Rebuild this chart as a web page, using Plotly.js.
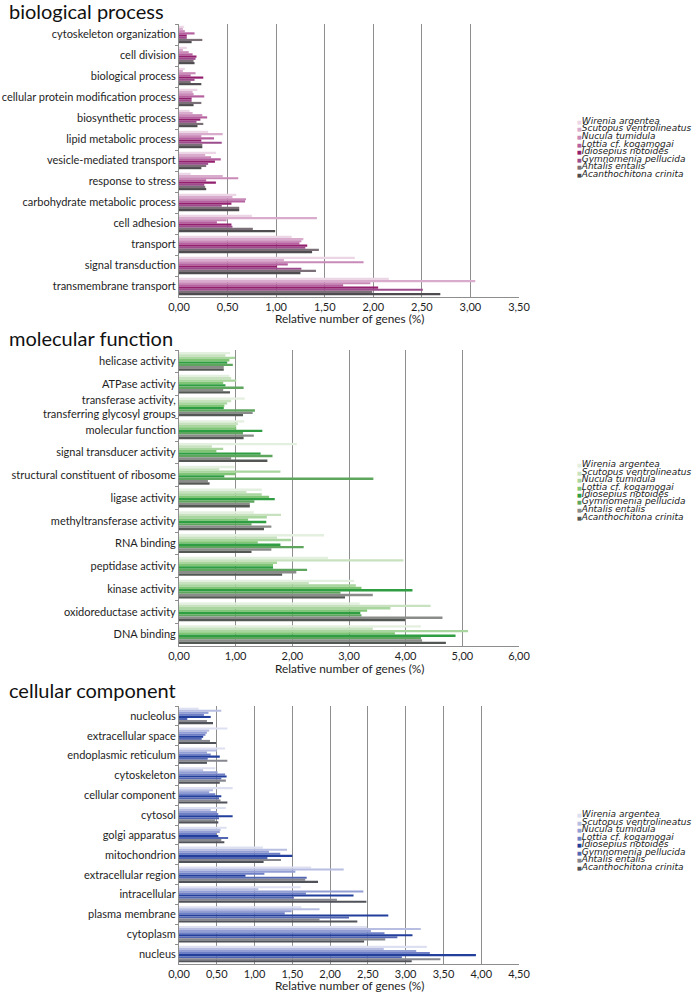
<!DOCTYPE html>
<html><head><meta charset="utf-8">
<script src="https://cdn.plot.ly/plotly-3.0.1.min.js"></script>
<style>html,body{margin:0;padding:0;background:#fff;}</style>
</head><body><div id="chart" style="width:694px;height:992px;"></div>
<script>
// ---------- DATA ----------
const species = ['Wirenia argentea','Scutopus ventrolineatus','Nucula tumidula','Lottia cf. kogamogai','Idiosepius notoides','Gymnomenia pellucida','Antalis entalis','Acanthochitona crinita'];

const bpCategories = ['cytoskeleton organization','cell division','biological process','cellular protein modification process','biosynthetic process','lipid metabolic process','vesicle-mediated transport','response to stress','carbohydrate metabolic process','cell adhesion','transport','signal transduction','transmembrane transport'];
const bpWirenia    = [0.05,0.08,0.06,0.19,0.11,0.30,0.38,0.12,0.59,0.75,1.16,1.81,2.16];
const bpScutopus   = [0.04,0.04,0.04,0.14,0.14,0.45,0.27,0.45,0.55,1.42,1.28,1.08,3.05];
const bpNucula     = [0.06,0.10,0.17,0.15,0.24,0.23,0.33,0.61,0.69,0.49,1.26,1.90,1.97];
const bpLottia     = [0.16,0.14,0.12,0.26,0.29,0.36,0.43,0.28,0.68,0.39,1.24,1.12,1.69];
const bpIdiosepius = [0.08,0.18,0.25,0.13,0.22,0.23,0.37,0.38,0.54,0.54,1.32,1.01,2.05];
const bpGymnomenia = [0.08,0.17,0.16,0.13,0.18,0.44,0.30,0.26,0.44,0.55,1.30,1.26,2.51];
const bpAntalis    = [0.24,0.15,0.12,0.23,0.25,0.24,0.28,0.27,0.62,0.76,1.44,1.41,1.99];
const bpAcantho    = [0.13,0.16,0.23,0.15,0.19,0.24,0.23,0.28,0.62,0.99,1.37,1.25,2.69];

const mfCategories = ['helicase activity','ATPase activity','transferase activity,<br>transferring glycosyl groups','molecular function','signal transducer activity','structural constituent of ribosome','ligase activity','methyltransferase activity','RNA binding','peptidase activity','kinase activity','oxidoreductase activity','DNA binding'];
const mfWirenia    = [0.90,0.89,1.16,1.15,2.08,0.98,1.46,1.32,2.56,2.63,3.09,3.19,4.27];
const mfScutopus   = [0.82,0.92,0.92,1.04,0.58,0.71,1.19,1.80,1.73,3.96,2.29,4.44,3.42];
const mfNucula     = [0.99,1.01,0.85,1.01,0.78,1.79,1.46,1.55,1.98,1.73,3.12,3.73,5.10];
const mfLottia     = [0.89,0.78,0.80,1.01,0.66,1.00,1.59,1.22,1.39,1.66,3.22,3.32,3.81];
const mfIdiosepius = [0.85,0.82,0.79,1.47,1.44,0.80,1.69,1.54,1.79,1.66,4.12,3.20,4.88];
const mfGymnomenia = [0.95,1.14,1.34,1.13,1.65,3.43,1.33,1.28,2.20,2.26,2.85,3.22,4.27];
const mfAntalis    = [0.79,0.78,1.30,1.32,0.92,0.51,1.25,1.63,1.63,2.07,3.42,4.65,4.29];
const mfAcantho    = [0.79,0.90,1.13,1.14,1.56,0.54,1.25,1.50,1.28,1.82,2.93,3.99,4.71];

const ccCategories = ['nucleolus','extracellular space','endoplasmic reticulum','cytoskeleton','cellular component','cytosol','golgi apparatus','mitochondrion','extracellular region','intracellular','plasma membrane','cytoplasm','nucleus'];
const ccWirenia    = [0.26,0.64,0.61,0.48,0.71,0.62,0.63,1.11,1.75,1.61,1.62,2.49,3.28];
const ccScutopus   = [0.56,0.40,0.50,0.32,0.45,0.42,0.55,1.43,2.18,1.05,1.86,3.20,2.71];
const ccNucula     = [0.39,0.37,0.37,0.51,0.40,0.50,0.54,1.19,1.54,2.44,1.49,2.54,3.14];
const ccLottia     = [0.33,0.35,0.42,0.61,0.48,0.52,0.49,1.34,1.13,1.68,1.40,2.72,3.32];
const ccIdiosepius = [0.42,0.32,0.54,0.63,0.56,0.71,0.52,1.50,0.88,2.31,2.77,3.09,3.93];
const ccGymnomenia = [0.11,0.30,0.38,0.56,0.53,0.53,0.65,1.17,1.69,1.52,2.25,2.89,2.95];
const ccAntalis    = [0.37,0.41,0.64,0.62,0.55,0.48,0.56,1.35,1.67,2.09,1.86,2.73,3.46];
const ccAcantho    = [0.45,0.49,0.37,0.54,0.64,0.52,0.60,1.12,1.84,2.48,2.36,2.45,3.08];

const panelTitles = ['biological process','molecular function','cellular component'];
const axisTitle = 'Relative number of genes (%)';

// ---------- STYLE ----------
const bpColors = ['#ecd6e6','#d9abcd','#c98ab8','#b5609f','#93206f','#9c4c8c','#7b7078','#4f4c4f'];
const mfColors = ['#e4f0df','#c8e2bf','#a9d59e','#80c475','#2f9e43','#5ea65e','#8a8c8a','#545854'];
const ccColors = ['#dde0f1','#b7bee2','#939fd4','#6e7fc6','#233f9c','#5366b2','#86878f','#50525a'];

const FONT = 'Lato, "Noto Sans", sans-serif';
const LEGFONT = '"DejaVu Sans", sans-serif';
const W = 694, H = 992;
const px = v => v / W;
const py = v => 1 - v / H;

const panels = [
  {cats: bpCategories, vals: [bpWirenia,bpScutopus,bpNucula,bpLottia,bpIdiosepius,bpGymnomenia,bpAntalis,bpAcantho], colors: bpColors, xmax: 3.5, dtick: 0.5, top: 24, bottom: 297, title: 11, axTitle: 318, legTop: 121},
  {cats: mfCategories, vals: [mfWirenia,mfScutopus,mfNucula,mfLottia,mfIdiosepius,mfGymnomenia,mfAntalis,mfAcantho], colors: mfColors, xmax: 6.0, dtick: 1.0, top: 350, bottom: 646, title: 338, axTitle: 668, legTop: 464},
  {cats: ccCategories, vals: [ccWirenia,ccScutopus,ccNucula,ccLottia,ccIdiosepius,ccGymnomenia,ccAntalis,ccAcantho], colors: ccColors, xmax: 4.5, dtick: 0.5, top: 706, bottom: 964, title: 690, axTitle: 985, legTop: 814}
];

const traces = [];
const layout = {
  width: W, height: H,
  margin: {l: 0, r: 0, t: 0, b: 0},
  paper_bgcolor: '#fff', plot_bgcolor: '#fff',
  font: {family: FONT, size: 11, color: '#1e1e1e'},
  separators: ', ',
  barmode: 'group', bargap: 0.17, bargroupgap: 0,
  showlegend: false,
  annotations: []
};

panels.forEach((p, k) => {
  const sfx = k === 0 ? '' : String(k + 1);
  p.vals.forEach((v, i) => {
    traces.push({
      type: 'bar', orientation: 'h',
      x: v, y: p.cats, name: species[i],
      xaxis: 'x' + sfx, yaxis: 'y' + sfx,
      marker: {color: p.colors[i], line: {width: 0}},
      hoverinfo: 'x+name'
    });
  });
  layout['xaxis' + sfx] = {
    domain: [px(179), px(519)], anchor: 'y' + sfx,
    range: [0, p.xmax], dtick: p.dtick, tick0: 0, tickformat: '.2f',
    showgrid: true, gridcolor: '#8e8e8e', gridwidth: 1,
    zeroline: false, showline: true, linecolor: '#8e8e8e', linewidth: 1,
    ticks: '', ticklen: 0,
    tickfont: {size: 11, color: '#1e1e1e'},
    fixedrange: true
  };
  layout['yaxis' + sfx] = {
    domain: [py(p.bottom), py(p.top)], anchor: 'x' + sfx,
    type: 'category', categoryorder: 'array', categoryarray: p.cats,
    autorange: 'reversed',
    showgrid: false, zeroline: false,
    showline: true, linecolor: '#8e8e8e', linewidth: 1,
    ticks: 'outside', tickson: 'boundaries', ticklen: 3, tickcolor: '#8e8e8e',
    tickfont: {size: 11, color: '#1e1e1e'},
    fixedrange: true
  };
  layout.annotations.push({
    xref: 'paper', yref: 'paper', x: px(7), y: py(p.title),
    xanchor: 'left', yanchor: 'middle', showarrow: false,
    text: panelTitles[k], font: {size: 20, color: '#111'}
  });
  layout.annotations.push({
    xref: 'paper', yref: 'paper', x: px(349), y: py(p.axTitle),
    xanchor: 'center', yanchor: 'middle', showarrow: false,
    text: axisTitle, font: {size: 11.8, color: '#1e1e1e'}
  });
  species.forEach((s, i) => {
    layout.annotations.push({
      xref: 'paper', yref: 'paper', x: px(575), y: py(p.legTop + i * 7.5),
      xanchor: 'left', yanchor: 'middle', showarrow: false,
      text: '<span style="font-size:5px;color:' + p.colors[i] + '">■</span><i>' + s + '</i>',
      font: {family: LEGFONT, size: 9, color: '#222'}
    });
  });
});

Plotly.newPlot('chart', traces, layout, {displayModeBar: false, staticPlot: true});
</script>
</body></html>
